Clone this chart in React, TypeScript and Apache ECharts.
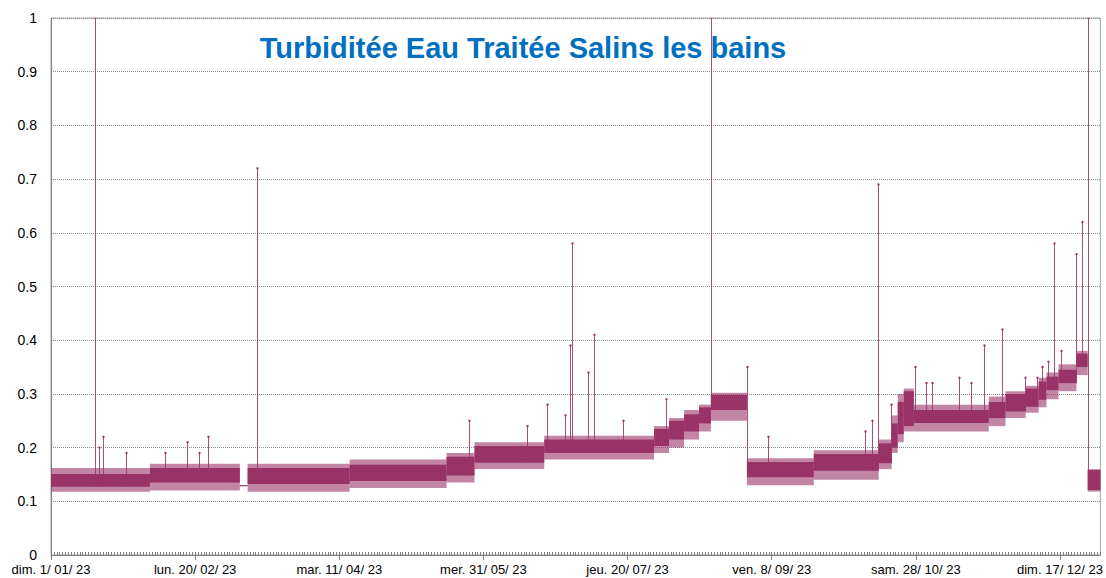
import React, { useEffect, useRef } from "react";
import * as echarts from "echarts";

// X axis: days since 1 Jan 2023
const xTickLabels = [
  "dim. 1/ 01/ 23",
  "lun. 20/ 02/ 23",
  "mar. 11/ 04/ 23",
  "mer. 31/ 05/ 23",
  "jeu. 20/ 07/ 23",
  "ven. 8/ 09/ 23",
  "sam. 28/ 10/ 23",
  "dim. 17/ 12/ 23",
];

// Band segments of the dense hourly signal (start day, end day, core low/high, fringe low/high)
const segStart = [0, 34.3, 65.5, 68.2, 103.6, 137.2, 146.9, 171.1, 209.2, 214.4, 219.6, 224.8, 228.9, 241.4, 264.6, 287.1, 291.6, 293.7, 295.8, 299.3, 325.3, 331.1, 338.1, 342.6, 345.3, 349.5, 355.7, 359.6];
const segEnd = [34.3, 65.5, 68.2, 103.6, 137.2, 146.9, 171.1, 209.2, 214.4, 219.6, 224.8, 228.9, 241.4, 264.6, 287.1, 291.6, 293.7, 295.8, 299.3, 325.3, 331.1, 338.1, 342.6, 345.3, 349.5, 355.7, 359.6, 364];
const coreLow = [0.127, 0.135, 0.13, 0.132, 0.138, 0.148, 0.172, 0.19, 0.203, 0.215, 0.23, 0.245, 0.27, 0.145, 0.157, 0.171, 0.2, 0.225, 0.24, 0.246, 0.255, 0.267, 0.276, 0.289, 0.307, 0.32, 0.35, 0.121];
const coreHigh = [0.151, 0.162, 0.13, 0.162, 0.168, 0.183, 0.203, 0.215, 0.235, 0.25, 0.262, 0.275, 0.298, 0.173, 0.188, 0.208, 0.245, 0.285, 0.305, 0.27, 0.285, 0.3, 0.31, 0.323, 0.332, 0.345, 0.375, 0.158];
const fringeLow = [0.118, 0.12, 0.13, 0.118, 0.125, 0.135, 0.16, 0.178, 0.19, 0.2, 0.215, 0.23, 0.25, 0.13, 0.14, 0.16, 0.19, 0.21, 0.23, 0.23, 0.24, 0.255, 0.265, 0.275, 0.29, 0.305, 0.335, 0.118];
const fringeHigh = [0.162, 0.17, 0.13, 0.17, 0.178, 0.19, 0.21, 0.222, 0.24, 0.255, 0.27, 0.28, 0.302, 0.18, 0.195, 0.215, 0.26, 0.3, 0.31, 0.28, 0.295, 0.305, 0.315, 0.33, 0.34, 0.355, 0.38, 0.16];

// Isolated peaks
const spikeDay = [15.2, 16.6, 18.0, 26.0, 39.5, 47.1, 51.3, 54.4, 71.4, 145.1, 165.2, 172.2, 178.4, 180.1, 180.8, 186.4, 188.4, 198.5, 213.4, 229.0, 241.5, 248.7, 282.3, 284.7, 286.8, 291.3, 299.6, 303.4, 305.5, 314.9, 319.0, 323.5, 329.8, 337.7, 341.9, 343.6, 345.7, 347.8, 350.2, 355.4, 357.5, 359.7];
const spikeValue = [1.0, 0.2, 0.22, 0.19, 0.19, 0.21, 0.19, 0.22, 0.72, 0.25, 0.24, 0.28, 0.26, 0.39, 0.58, 0.34, 0.41, 0.25, 0.29, 1.0, 0.35, 0.22, 0.23, 0.25, 0.69, 0.28, 0.35, 0.32, 0.32, 0.33, 0.32, 0.39, 0.42, 0.33, 0.33, 0.35, 0.36, 0.58, 0.38, 0.56, 0.62, 1.0];

const COLOR = "#993366";

function baseAt(day: number): number {
  for (let i = 0; i < segStart.length; i++) {
    if (day >= segStart[i] && day < segEnd[i]) return coreLow[i];
  }
  return coreLow[coreLow.length - 1];
}

export default function App() {
  const ref = useRef<HTMLDivElement>(null);
  useEffect(() => {
    if (!ref.current) return;
    const chart = echarts.init(ref.current, null, { renderer: "svg" });
    const bandData = segStart.map((s, i) => [s, segEnd[i], coreLow[i], coreHigh[i], fringeLow[i], fringeHigh[i]]);
    const spikeData = spikeDay.map((d, i) => [d, spikeValue[i], baseAt(d)]);
    chart.setOption({
      animation: false,
      backgroundColor: "#fff",
      graphic: [
        {
          type: "text",
          x: 523,
          y: 33,
          style: {
            text: "Turbiditée Eau Traitée Salins les bains",
            fill: "#0070C0",
            font: "bold 29px 'Liberation Sans', Arial, sans-serif",
            textAlign: "center",
            textVerticalAlign: "top",
          },
          z: 10,
        },
      ],
      grid: {
        left: 51,
        top: 18,
        right: 4,
        bottom: 23,
        show: true,
        borderColor: "#a6a6a6",
        borderWidth: 1,
        backgroundColor: "transparent",
      },
      xAxis: [
        {
          type: "value",
          min: 0,
          max: 364,
          interval: 50,
          axisLine: { show: true, lineStyle: { color: "#808080", width: 1 } },
          axisTick: { show: true, length: 5, lineStyle: { color: "#808080" } },
          splitLine: { show: false },
          axisLabel: {
            show: true,
            showMaxLabel: false,
            margin: 8,
            color: "#000",
            fontSize: 13,
            fontFamily: "'Liberation Sans', Arial, sans-serif",
            formatter: (v: number) => {
              const idx = Math.round(v / 50);
              return Math.abs(v - idx * 50) < 1e-6 && idx < xTickLabels.length ? xTickLabels[idx] : "";
            },
          },
        },
        {
          type: "value",
          min: 0,
          max: 364,
          interval: 1,
          position: "bottom",
          axisLine: { show: false },
          axisTick: { show: true, inside: true, length: 3, lineStyle: { color: "#808080" } },
          axisLabel: { show: false },
          splitLine: { show: false },
        },
      ],
      yAxis: {
        type: "value",
        min: 0,
        max: 1,
        interval: 0.1,
        axisLine: { show: true, lineStyle: { color: "#808080", width: 1 } },
        axisTick: { show: false },
        axisLabel: {
          margin: 14,
          color: "#000",
          fontSize: 14,
          fontFamily: "'Liberation Sans', Arial, sans-serif",
          formatter: (v: number) => String(Number(v.toFixed(1))),
        },
        splitLine: { show: true, lineStyle: { color: "#8c8c8c", type: "dotted", width: 1 } },
      },
      series: [
        {
          type: "custom",
          name: "band",
          xAxisIndex: 0,
          yAxisIndex: 0,
          clip: true,
          encode: { x: [0, 1], y: [2, 3, 4, 5] },
          data: bandData,
          renderItem: (params: any, api: any) => {
            const s = api.value(0);
            const e = api.value(1);
            const lo = api.value(2);
            const hi = api.value(3);
            const flo = api.value(4);
            const fhi = api.value(5);
            const c1 = api.coord([s, hi]);
            const c2 = api.coord([e, lo]);
            const f1 = api.coord([s, fhi]);
            const f2 = api.coord([e, flo]);
            return {
              type: "group",
              children: [
                {
                  type: "rect",
                  shape: { x: f1[0], y: f1[1], width: f2[0] - f1[0], height: Math.max(1, f2[1] - f1[1]) },
                  style: { fill: COLOR, opacity: 0.6 },
                },
                {
                  type: "rect",
                  shape: { x: c1[0], y: c1[1], width: c2[0] - c1[0], height: Math.max(1, c2[1] - c1[1]) },
                  style: { fill: COLOR },
                },
              ],
            };
          },
        },
        {
          type: "custom",
          name: "spikes",
          xAxisIndex: 0,
          yAxisIndex: 0,
          clip: true,
          encode: { x: 0, y: [1, 2] },
          data: spikeData,
          renderItem: (params: any, api: any) => {
            const d = api.value(0);
            const v = api.value(1);
            const b = api.value(2);
            const top = api.coord([d, v]);
            const bot = api.coord([d, b]);
            const x = Math.round(top[0]) + 0.5;
            return {
              type: "group",
              children: [
                {
                  type: "line",
                  shape: { x1: x, y1: bot[1], x2: x, y2: top[1] },
                  style: { stroke: COLOR, lineWidth: 1, opacity: 0.85 },
                },
                {
                  type: "circle",
                  shape: { cx: x, cy: top[1], r: 1.2 },
                  style: { fill: COLOR },
                },
              ],
            };
          },
        },
      ],
    });
    return () => chart.dispose();
  }, []);
  return <div ref={ref} style={{ position: "fixed", left: 0, top: 0, width: 1106, height: 578 }} />;
}
